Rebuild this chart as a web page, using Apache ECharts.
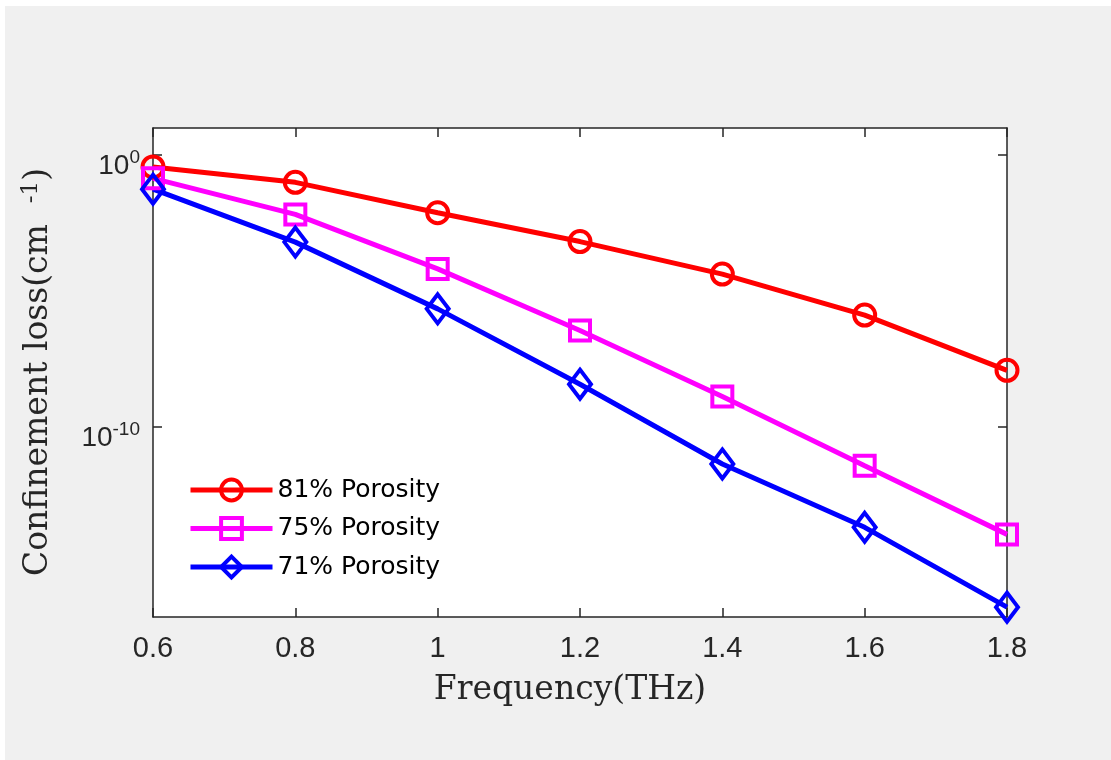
<!DOCTYPE html>
<html>
<head>
<meta charset="utf-8">
<script src="https://cdn.jsdelivr.net/npm/echarts@6/dist/echarts.min.js"></script>
<style>
  html, body { margin: 0; padding: 0; background: #ffffff; }
  #chart { width: 1111px; height: 760px; }
</style>
</head>
<body>
<div id="chart"></div>
<script>
// Frequency sweep (THz)
const frequency = [0.6, 0.8, 1.0, 1.2, 1.4, 1.6, 1.8];
// Confinement loss (cm^-1) for each core porosity
const loss81 = [3.7e-1, 1.0e-1, 7.6e-3, 6.6e-4, 4.2e-5, 1.3e-6, 1.2e-8];
const loss75 = [1.4e-1, 6.6e-3, 6.5e-5, 3.5e-7, 1.3e-9, 3.7e-12, 1.1e-14];
const loss71 = [5.6e-2, 6.3e-4, 2.2e-6, 3.7e-9, 4.3e-12, 2.0e-14, 2.3e-17];
const seriesNames = ['81% Porosity', '75% Porosity', '71% Porosity'];
// Labelled decades on the log axis
const yTickValues = [1, 1e-10];
const xTickLabels = ['0.6', '0.8', '1', '1.2', '1.4', '1.6', '1.8'];

const axisColor = '#262626';
const tickFont = '"Liberation Sans", Arial, sans-serif';
const legendFont = '"DejaVu Sans", "Liberation Sans", Arial, sans-serif';
const serifFont = '"DejaVu Serif", "Liberation Serif", serif';

function pairs(ys) {
  return frequency.map((x, i) => [x, ys[i]]);
}

function supLabel(v) {
  const e = Math.round(Math.log10(v));
  return '{b|10}{sup|' + e + '}';
}

const chart = echarts.init(document.getElementById('chart'), null, { renderer: 'canvas' });

const xCommon = {
  type: 'value',
  min: 0.6,
  max: 1.8,
  interval: 0.2,
  axisLine: { show: true, onZero: false, lineStyle: { color: axisColor, width: 1.5 } },
  axisTick: { show: true, inside: true, length: 9, lineStyle: { color: axisColor, width: 1.5 } },
  splitLine: { show: false }
};

const yCommon = {
  type: 'log',
  logBase: 10,
  min: 1e-17,
  max: 10,
  axisLine: { show: true, onZero: false, lineStyle: { color: axisColor, width: 1.5 } },
  axisTick: { show: true, inside: true, length: 9, customValues: yTickValues,
              lineStyle: { color: axisColor, width: 1.5 } },
  splitLine: { show: false },
  minorTick: { show: false }
};

function lineSeries(name, data, color, symbol, size) {
  return {
    name: name,
    type: 'line',
    data: pairs(data),
    symbol: symbol,
    symbolSize: size,
    showSymbol: true,
    lineStyle: { color: color, width: 5 },
    itemStyle: { color: 'rgba(0,0,0,0)', borderColor: color, borderWidth: 4 },
    emphasis: { disabled: true },
    z: 3
  };
}

chart.setOption({
  backgroundColor: '#ffffff',
  animation: false,
  graphic: [
    { type: 'rect', z: -10, shape: { x: 5, y: 6, width: 1106, height: 754 },
      style: { fill: '#f0f0f0' } },
    { type: 'text', z: 10, x: 570, y: 690,
      style: { text: 'Frequency(THz)', font: '33px ' + serifFont, fill: axisColor,
               textAlign: 'center', textVerticalAlign: 'middle' } },
    { type: 'text', z: 10, x: 38, y: 372, rotation: Math.PI / 2,
      style: { text: 'Confinement loss(cm  {sup|-1})', font: '33px ' + serifFont, fill: axisColor,
               textAlign: 'center', textVerticalAlign: 'middle',
               rich: { sup: { font: '23px ' + serifFont, fill: axisColor, verticalAlign: 'top', padding: [0, 0, 14, 0] } } } }
  ],
  grid: { left: 153, right: 104, top: 128, bottom: 143, backgroundColor: '#ffffff', show: true, borderWidth: 0 },
  legend: {
    left: 188,
    top: 477,
    padding: 0,
    orient: 'vertical',
    itemWidth: 82,
    itemHeight: 26,
    itemGap: 12.5,
    data: seriesNames,
    lineStyle: { width: 5 },
    itemStyle: { borderWidth: 4 },
    textStyle: { color: '#000000', fontSize: 25, lineHeight: 26, fontFamily: legendFont },
    selectedMode: false
  },
  xAxis: [
    Object.assign({}, xCommon, {
      position: 'bottom',
      axisLabel: { show: true, margin: 17, color: axisColor, fontSize: 29, fontFamily: tickFont,
                   formatter: (v) => { const i = Math.round((v - 0.6) / 0.2); return xTickLabels[i] || ''; } }
    }),
    Object.assign({}, xCommon, { position: 'top', axisLabel: { show: false } })
  ],
  yAxis: [
    Object.assign({}, yCommon, {
      position: 'left',
      axisLabel: { show: true, margin: 13, color: axisColor, fontFamily: tickFont,
                   customValues: yTickValues,
                   formatter: supLabel,
                   padding: [18, 0, 0, 0],
                   rich: {
                     b: { fontSize: 28, lineHeight: 32, fontFamily: tickFont, color: axisColor, verticalAlign: 'bottom' },
                     sup: { fontSize: 19, lineHeight: 8, fontFamily: tickFont, color: axisColor, verticalAlign: 'top' }
                   } }
    }),
    Object.assign({}, yCommon, { position: 'right', axisLabel: { show: false } })
  ],
  series: [
    lineSeries(seriesNames[0], loss81, '#ff0000', 'circle', 21),
    lineSeries(seriesNames[1], loss75, '#ff00ff', 'rect', 20),
    lineSeries(seriesNames[2], loss71, '#0000ff', 'diamond', [22, 29])
  ]
});
</script>
</body>
</html>
